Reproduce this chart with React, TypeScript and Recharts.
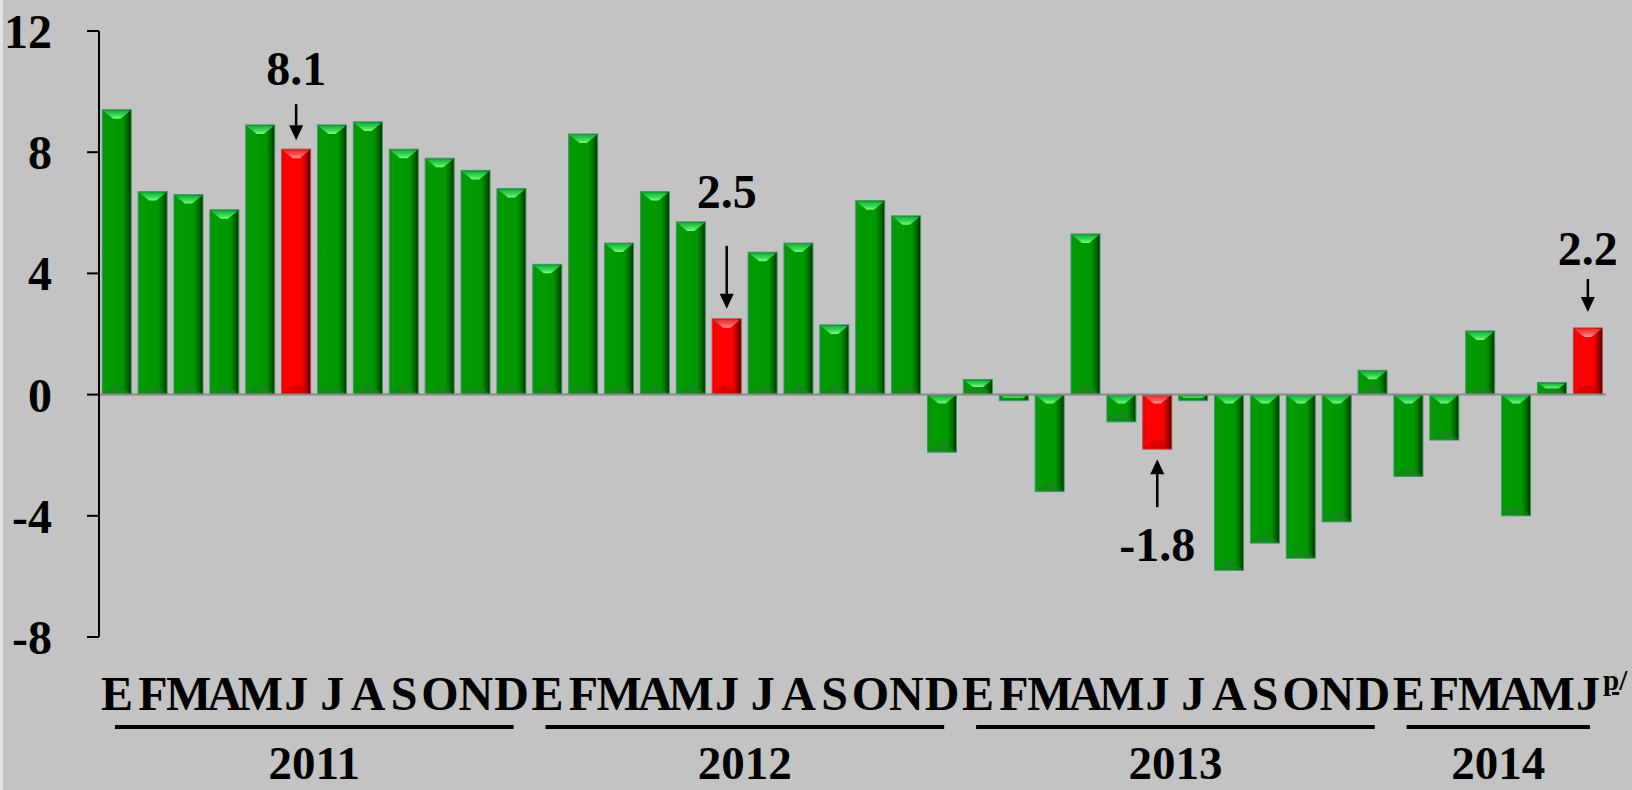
import { BarChart, Bar, XAxis, YAxis, ReferenceLine, Cell } from 'recharts';

const monthLetters = ['E', 'F', 'M', 'A', 'M', 'J', 'J', 'A', 'S', 'O', 'N', 'D'];
const years = ['2011', '2012', '2013', '2014'];

const values2011 = [9.4, 6.7, 6.6, 6.1, 8.9, 8.1, 8.9, 9.0, 8.1, 7.8, 7.4, 6.8];
const values2012 = [4.3, 8.6, 5.0, 6.7, 5.7, 2.5, 4.7, 5.0, 2.3, 6.4, 5.9, -1.9];
const values2013 = [0.5, -0.2, -3.2, 5.3, -0.9, -1.8, -0.2, -5.8, -4.9, -5.4, -4.2, 0.8];
const values2014 = [-2.7, -1.5, 2.1, -4.0, 0.4, 2.2];

const yTicks = [-8, -4, 0, 4, 8, 12];

// the June bars are highlighted in red and annotated
const highlightMonth = 'J';
const highlightPos = 5;

const W = 1632;
const H = 790;
const M_TOP = 31;
const M_RIGHT = 26;
const Y_W = 99;
const X_H = 153;
const FONT = "'Liberation Serif', 'Times New Roman', serif";

const series = [values2011, values2012, values2013, values2014];
const data = series.flatMap((vals, yi) =>
  vals.map((v, mi) => ({
    key: `${years[yi]}-${mi}`,
    month: monthLetters[mi],
    year: years[yi],
    first: mi === 0,
    count: vals.length,
    hi: mi === highlightPos && monthLetters[mi] === highlightMonth,
    value: v,
  }))
);

const BAND = (W - Y_W - M_RIGHT) / data.length;

// arrow / text spacing for each annotated bar, in px away from the bar end
const noteLayout: Record<number, { tip: number; tail: number; text: number }> = {
  5: { tip: 9, tail: 45, text: 64 },
  17: { tip: 10, tail: 73, text: 111 },
  29: { tip: 10, tail: 58, text: 112 },
  41: { tip: 16, tail: 49, text: 63 },
};

function BevelBar(props: any) {
  const { x, y, width, height, payload } = props;
  const top = Math.min(y, y + height);
  const h = Math.abs(height);
  if (!h) return null;
  const red = payload.hi;
  const b = Math.min(9, h / 2);
  const grad = red ? 'url(#redBody)' : 'url(#greenBody)';
  return (
    <g>
      <rect x={x} y={top} width={width} height={h} fill={grad} stroke={red ? '#c04040' : '#3a9a66'} strokeWidth={1} />
      <polygon
        points={`${x + 1},${top + 1} ${x + width - 1},${top + 1} ${x + width - b - 2},${top + b} ${x + b + 2},${top + b}`}
        fill={red ? 'url(#redTop)' : 'url(#greenTop)'}
      />
      <polygon
        points={`${x + 1},${top + h - 1} ${x + width - 1},${top + h - 1} ${x + width - b - 2},${top + h - b} ${x + b + 2},${top + h - b}`}
        fill={red ? '#c00000' : '#1f7f2a'}
        opacity={0.6}
      />
    </g>
  );
}

function Note(props: any) {
  const { x, y, width, height, index, value } = props;
  const cfg = noteLayout[index];
  if (!cfg) return null;
  const cx = x + width / 2;
  const up = value >= 0;
  const end = up ? Math.min(y, y + height) : Math.max(y, y + height);
  const s = up ? -1 : 1;
  const tipY = end + s * cfg.tip;
  const tailY = end + s * cfg.tail;
  const headY = tipY + s * 15;
  return (
    <g>
      <line x1={cx} x2={cx} y1={tailY} y2={headY} stroke="#000" strokeWidth={2.5} />
      <polygon points={`${cx - 7},${headY} ${cx + 7},${headY} ${cx},${tipY}`} fill="#000" />
      <text
        x={cx}
        y={up ? end - cfg.text : end + cfg.text}
        textAnchor="middle"
        fontFamily={FONT}
        fontWeight="bold"
        fontSize={48}
        fill="#000"
      >
        {value.toFixed(1)}
      </text>
    </g>
  );
}

function MonthTick(props: any) {
  const { x, y, index } = props;
  const d = data[index];
  if (!d) return null;
  const last = index === data.length - 1;
  return (
    <g>
      <text x={x} y={y + 65} textAnchor="middle" fontFamily={FONT} fontWeight="bold" fontSize={48} fill="#000">
        {d.month}
      </text>
      {d.first && (
        <>
          <line x1={x - 2} x2={x + BAND * (d.count - 1) + 2} y1={y + 82} y2={y + 82} stroke="#000" strokeWidth={4} />
          <text
            x={x + (BAND * (d.count - 1)) / 2}
            y={y + 134}
            textAnchor="middle"
            fontFamily={FONT}
            fontWeight="bold"
            fontSize={47}
            fill="#000"
          >
            {d.year}
          </text>
        </>
      )}
      {last && (
        <text x={x + 15} y={y + 45} fontFamily={FONT} fontWeight="bold" fontSize={29} fill="#000">
          <tspan textDecoration="underline">p</tspan>/
        </text>
      )}
    </g>
  );
}

export default function App() {
  return (
    <div
      style={{
        position: 'fixed',
        left: 0,
        top: 0,
        width: W,
        height: H,
        background: '#c3c3c3',
        boxShadow: 'inset 3px 0 0 #e4e4e4',
      }}
    >
      <BarChart width={W} height={H} data={data} margin={{ top: M_TOP, right: M_RIGHT, left: 0, bottom: 0 }} barCategoryGap="9%">
        <defs>
          <linearGradient id="greenBody" x1="0" y1="0" x2="1" y2="0">
            <stop offset="0%" stopColor="#0b8d14" />
            <stop offset="12%" stopColor="#009c00" />
            <stop offset="70%" stopColor="#009700" />
            <stop offset="88%" stopColor="#006400" />
            <stop offset="100%" stopColor="#002c00" />
          </linearGradient>
          <linearGradient id="greenTop" x1="0" y1="0" x2="0" y2="1">
            <stop offset="0%" stopColor="#18b040" />
            <stop offset="60%" stopColor="#3fdc5a" />
            <stop offset="100%" stopColor="#7cff80" />
          </linearGradient>
          <linearGradient id="redBody" x1="0" y1="0" x2="1" y2="0">
            <stop offset="0%" stopColor="#e00000" />
            <stop offset="12%" stopColor="#ff0000" />
            <stop offset="70%" stopColor="#fb0000" />
            <stop offset="88%" stopColor="#a00000" />
            <stop offset="100%" stopColor="#400000" />
          </linearGradient>
          <linearGradient id="redTop" x1="0" y1="0" x2="0" y2="1">
            <stop offset="0%" stopColor="#e03030" />
            <stop offset="60%" stopColor="#ff5a5a" />
            <stop offset="100%" stopColor="#ff9a9a" />
          </linearGradient>
        </defs>
        <XAxis
          dataKey="key"
          height={X_H}
          axisLine={false}
          tickLine={false}
          interval={0}
          tick={<MonthTick />}
        />
        <YAxis
          width={Y_W}
          domain={[-8, 12]}
          ticks={yTicks}
          interval={0}
          tickSize={12}
          tickMargin={35}
          axisLine={{ stroke: '#000', strokeWidth: 2 }}
          tickLine={{ stroke: '#000', strokeWidth: 2 }}
          tick={{ fontFamily: FONT, fontWeight: 'bold', fontSize: 48, fill: '#000' }}
        />
        <ReferenceLine y={0} stroke="#8a8a8a" strokeWidth={2} />
        <Bar dataKey="value" shape={<BevelBar />} isAnimationActive={false} label={<Note />}>
          {data.map((d) => (
            <Cell key={d.key} />
          ))}
        </Bar>
      </BarChart>
    </div>
  );
}
